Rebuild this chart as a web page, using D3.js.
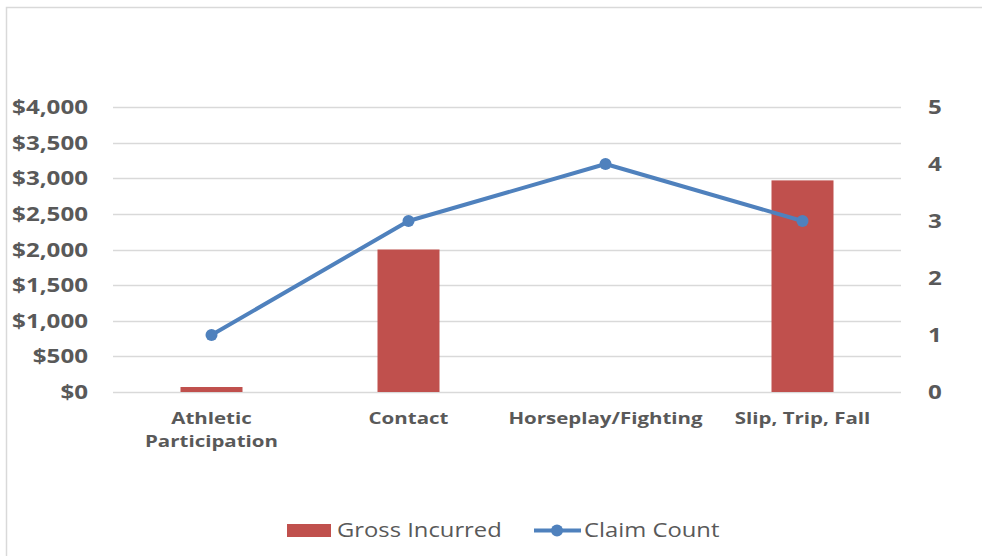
<!DOCTYPE html>
<html lang="en">
<head>
    <meta charset="utf-8" />
    <title>Gross Incurred and Claim Count</title>
    <script src="https://d3js.org/d3.v7.min.js"></script>
    <style>
        body { margin: 0; background: #fff; }
        svg text { font-family: "Open Sans", "DejaVu Sans", sans-serif; }
    </style>
</head>
<body>
    <script>
        var w = 982;
        var h = 556;

        // data
        var categories = ["Athletic Participation", "Contact", "Horseplay/Fighting", "Slip, Trip, Fall"];
        var grossIncurred = [70, 2000, 0, 2970];
        var claimCount = [1, 3, 4, 3];
        var leftTicks = [0, 500, 1000, 1500, 2000, 2500, 3000, 3500, 4000];
        var rightTicks = [0, 1, 2, 3, 4, 5];

        var plot = { left: 113, right: 901, top: 107, bottom: 392 };
        var stretch = 1.22;  // the original text is drawn a bit wide

        function place(x, y) {
            return "translate(" + x + "," + y + ") scale(" + stretch + ",1)";
        }

        var svg = d3.select("body")
            .append("svg")
            .attr("width", w)
            .attr("height", h);

        // chart frame
        svg.append("rect")
            .attr("x", 6.5)
            .attr("y", 7.5)
            .attr("width", w)
            .attr("height", h)
            .attr("fill", "white")
            .attr("stroke", "#d9d9d9")
            .attr("stroke-width", 1.5);

        var xScale = d3.scaleBand()
            .domain(categories)
            .range([plot.left, plot.right]);

        var yLeft = d3.scaleLinear()
            .domain([0, 4000])
            .range([plot.bottom, plot.top]);

        var yRight = d3.scaleLinear()
            .domain([0, 5])
            .range([plot.bottom, plot.top]);

        // gridlines
        svg.selectAll("line.grid")
            .data(leftTicks)
            .enter()
            .append("line")
            .attr("class", "grid")
            .attr("x1", plot.left)
            .attr("x2", plot.right)
            .attr("y1", function (d) { return Math.round(yLeft(d)) + 0.5; })
            .attr("y2", function (d) { return Math.round(yLeft(d)) + 0.5; })
            .attr("stroke", "#d9d9d9")
            .attr("stroke-width", 1.3);

        // left axis labels
        svg.selectAll("text.left")
            .data(leftTicks)
            .enter()
            .append("text")
            .attr("class", "left")
            .attr("transform", function (d) { return place(88, yLeft(d) + 7); })
            .attr("text-anchor", "end")
            .attr("font-size", "19.8px")
            .attr("font-weight", "bold")
            .attr("fill", "#595959")
            .text(function (d) { return "$" + d3.format(",")(d); });

        // right axis labels
        svg.selectAll("text.right")
            .data(rightTicks)
            .enter()
            .append("text")
            .attr("class", "right")
            .attr("transform", function (d) { return place(935, yRight(d) + 7); })
            .attr("text-anchor", "middle")
            .attr("font-size", "19.8px")
            .attr("font-weight", "bold")
            .attr("fill", "#595959")
            .text(function (d) { return d; });

        // bars
        var barW = 62;
        svg.selectAll("rect.bar")
            .data(grossIncurred)
            .enter()
            .append("rect")
            .attr("class", "bar")
            .attr("x", function (d, i) { return xScale(categories[i]) + xScale.bandwidth() / 2 - barW / 2; })
            .attr("y", function (d) { return yLeft(d); })
            .attr("width", barW)
            .attr("height", function (d) { return plot.bottom - yLeft(d); })
            .attr("fill", "#c0504d");

        // category labels
        var catLabels = svg.selectAll("text.cat")
            .data(categories)
            .enter()
            .append("text")
            .attr("class", "cat")
            .attr("transform", function (d) { return place(xScale(d) + xScale.bandwidth() / 2, 424); })
            .attr("text-anchor", "middle")
            .attr("font-size", "16.8px")
            .attr("font-weight", "bold")
            .attr("fill", "#595959");

        catLabels.each(function (d) {
            var t = d3.select(this);
            var words = d === "Athletic Participation" ? ["Athletic", "Participation"] : [d];
            words.forEach(function (word, k) {
                t.append("tspan")
                    .attr("x", 0)
                    .attr("dy", k === 0 ? 0 : 23)
                    .text(word);
            });
        });

        // claim count line
        var line = d3.line()
            .x(function (d, i) { return xScale(categories[i]) + xScale.bandwidth() / 2; })
            .y(function (d) { return yRight(d); });

        svg.append("path")
            .datum(claimCount)
            .attr("d", line)
            .attr("fill", "none")
            .attr("stroke", "#4f81bd")
            .attr("stroke-width", 4)
            .attr("stroke-linejoin", "round");

        svg.selectAll("circle.pt")
            .data(claimCount)
            .enter()
            .append("circle")
            .attr("class", "pt")
            .attr("cx", function (d, i) { return xScale(categories[i]) + xScale.bandwidth() / 2; })
            .attr("cy", function (d) { return yRight(d); })
            .attr("r", 6)
            .attr("fill", "#4f81bd");

        // legend
        var legend = svg.append("g");
        legend.append("rect")
            .attr("x", 287)
            .attr("y", 524)
            .attr("width", 44)
            .attr("height", 13)
            .attr("fill", "#c0504d");
        legend.append("text")
            .attr("transform", place(337, 537))
            .attr("font-size", "19.5px")
            .attr("fill", "#595959")
            .text("Gross Incurred");

        legend.append("line")
            .attr("x1", 534)
            .attr("x2", 581)
            .attr("y1", 530.5)
            .attr("y2", 530.5)
            .attr("stroke", "#4f81bd")
            .attr("stroke-width", 4);
        legend.append("circle")
            .attr("cx", 557)
            .attr("cy", 530.5)
            .attr("r", 6)
            .attr("fill", "#4f81bd");
        legend.append("text")
            .attr("transform", place(584, 537))
            .attr("font-size", "19.5px")
            .attr("fill", "#595959")
            .text("Claim Count");
    </script>
</body>
</html>
